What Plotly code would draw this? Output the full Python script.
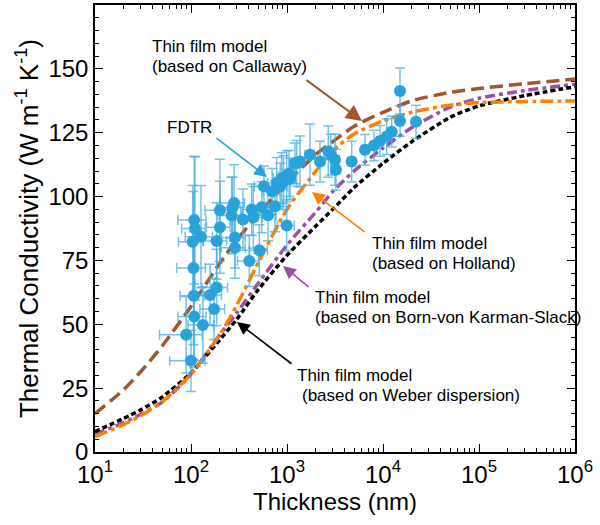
import plotly.graph_objects as go

# ---------------- data ----------------
# model curves (thickness in nm, thermal conductivity in W/m/K)
model_thickness = [10, 20, 30, 50, 100, 200, 300, 500, 1000, 2000, 3000, 5000,
                   1e4, 2e4, 5e4, 1e5, 3e5, 1e6]
k_callaway = [15, 24.5, 31.5, 41.5, 57, 74, 83, 93, 105.5, 116.5, 121.5, 127.5,
              133, 137.5, 140.8, 142.3, 144.2, 146]
k_holland = [6, 10.8, 14.2, 19.7, 30.5, 46, 57.5, 74, 95, 110, 118, 124.5,
             129.6, 133, 135.8, 136.8, 137.2, 137.4]
k_bvks = [7, 11.5, 14.8, 19.5, 30.5, 46, 54.5, 66, 81, 94, 102, 110,
          119, 127, 135, 138.5, 141.5, 144]
k_weber = [8, 13.2, 16.5, 21.5, 31, 44, 52, 63.5, 77, 88.5, 95, 103.5,
           113, 121.5, 131, 135.5, 139.5, 143]

# FDTR measurements
fdtr_thickness = [108, 110, 127, 104, 106, 107, 108, 133, 89, 100,
                  158, 174, 185, 200, 200, 185,
                  281, 270, 265, 348, 429, 446, 545, 634, 750, 575, 781, 881, 993, 1211,
                  993, 287, 287, 515, 405, 700, 850, 920, 1050,
                  1075, 1262, 1365, 1736, 2208, 2693, 2852, 3162, 3236, 4718,
                  6494, 8054, 9304, 10936, 12330, 15040, 15040, 22080]
fdtr_k = [90.8, 87.5, 84.3, 82.3, 72, 61.2, 53, 49.7, 45.9, 35.7,
          61.5, 56, 64.4, 94.6, 88, 82.6,
          97.5, 95.6, 92.6, 91, 94.9, 91.9, 95.8, 92.7, 96.2, 104, 105.3, 107.2, 107.9, 113,
          88.7, 84, 80, 79, 74.8, 102, 104, 106, 109,
          107, 113, 113.7, 116.4, 113.7, 117.6, 116.4, 114.4, 110.5, 113.7,
          118.3, 120, 121.8, 123.5, 125.4, 129.6, 141.3, 129.3]
fdtr_k_err = [25, 28, 20, 22, 30, 25, 20, 15, 15, 12,
              12, 12, 15, 20, 18, 15,
              15, 12, 15, 12, 10, 12, 10, 10, 10, 8, 10, 10, 10, 8,
              10, 12, 12, 10, 10, 9, 9, 10, 9,
              8, 9, 10, 12, 8, 10, 8, 10, 8, 8,
              6, 6, 6, 7, 6, 6, 9, 6.5]
fdtr_t_err = [35, 30, 40, 30, 35, 30, 35, 40, 42, 40,
              50, 50, 55, 60, 55, 50,
              80, 80, 75, 90, 100, 110, 120, 130, 150, 120, 150, 160, 180, 150,
              200, 80, 80, 110, 100, 140, 150, 160, 150,
              150, 150, 150, 200, 200, 250, 250, 300, 300, 400,
              500, 500, 600, 700, 800, 900, 900, 1000]

# x tick labels
xtick_vals = [10, 100, 1000, 1e4, 1e5, 1e6]
xtick_text = ["10<sup>1</sup>", "10<sup>2</sup>", "10<sup>3</sup>", "10<sup>4</sup>",
              "10<sup>5</sup>", "10<sup>6</sup>"]
ytick_vals = [0, 25, 50, 75, 100, 125, 150]

FONT = "Liberation Sans, Arial, sans-serif"
BROWN, ORANGE, PURPLE, BLUE = "#A3552B", "#FF8000", "#9B4FA8", "#29A3DA"

fig = go.Figure()

curves = [
    (k_callaway, BROWN, "13px,6px"),
    (k_bvks, PURPLE, "10px,4px,4px,4px"),
    (k_weber, "black", "5px,3px"),
    (k_holland, ORANGE, "13px,4px,4px,4px"),
]
for ys, col, dash in curves:
    fig.add_trace(go.Scatter(x=model_thickness, y=ys, mode="lines",
                             line=dict(color=col, width=3.5, dash=dash, shape="spline", smoothing=0.7),
                             showlegend=False, hoverinfo="skip"))

fig.add_trace(go.Scatter(
    x=fdtr_thickness, y=fdtr_k, mode="markers",
    marker=dict(color=BLUE, size=12, line=dict(width=0)),
    error_y=dict(type="data", array=fdtr_k_err, color="rgba(70,175,225,0.75)", thickness=1.5, width=5),
    error_x=dict(type="data", array=fdtr_t_err, color="rgba(70,175,225,0.75)", thickness=1.5, width=5),
    showlegend=False))

# annotation texts (one per line)
def txt(x, y, s):
    fig.add_annotation(x=x, y=y, xref="x", yref="y", text=s, showarrow=False,
                       xanchor="left", yanchor="middle", align="left",
                       font=dict(family=FONT, size=17, color="black"))

txt(1.575, 158.6, "Thin film model")
txt(1.575, 151.1, "(based on Callaway)")
txt(1.73, 126.9, "FDTR")
txt(3.862, 81.7, "Thin film model")
txt(3.862, 73.9, "(based on Holland)")
txt(3.272, 60.6, "Thin film model")
txt(3.272, 52.7, "(based on Born-von Karman-Slack)")
txt(3.081, 30.1, "Thin film model")
txt(3.133, 22.3, "(based on Weber dispersion)")

def arrow(tx, ty, fx, fy, col, w=1.6):
    fig.add_annotation(x=tx, y=ty, ax=fx, ay=fy, xref="x", yref="y", axref="x", ayref="y",
                       text="", showarrow=True, arrowhead=2, arrowsize=1.6, arrowwidth=w,
                       arrowcolor=col)

arrow(3.781, 129.6, 3.1875, 146.0, BROWN, 2)
arrow(2.792, 107.7, 2.25, 123.3, BLUE)
arrow(3.26, 101.8, 3.823, 85.7, ORANGE)
arrow(2.958, 72.8, 3.24, 64.2, PURPLE)
arrow(2.479, 50.9, 3.0625, 34.1, "black")

minor_x = [m * 10 ** e for e in range(1, 6) for m in range(2, 10)]

fig.update_xaxes(type="log", range=[1, 6], tickmode="array", tickvals=xtick_vals, ticktext=xtick_text,
                 ticks="inside", ticklen=8, tickwidth=1.2, tickcolor="black",
                 minor=dict(tickmode="array", tickvals=minor_x, ticks="inside", ticklen=4,
                            tickwidth=1, tickcolor="black", showgrid=False),
                 showline=True, linecolor="black", linewidth=1.5, mirror="ticks",
                 showgrid=False, zeroline=False, automargin=False,
                 tickfont=dict(family=FONT, size=24, color="black"),
                 title=dict(text="Thickness (nm)", font=dict(family=FONT, size=24, color="black"), standoff=2))
fig.update_yaxes(range=[0, 175], tickmode="array", tickvals=ytick_vals,
                 ticks="inside", ticklen=8, tickwidth=1.2, tickcolor="black",
                 minor=dict(dtick=5, ticks="inside", ticklen=4, tickwidth=1, tickcolor="black", showgrid=False),
                 showline=True, linecolor="black", linewidth=1.5, mirror="ticks",
                 showgrid=False, zeroline=False, automargin=False,
                 tickfont=dict(family=FONT, size=24, color="black"),
                 title=dict(text="Thermal Conductivity (W m<sup>-1</sup> K<sup>-1</sup>)",
                            font=dict(family=FONT, size=26, color="black"), standoff=2))

fig.update_layout(width=600, height=525, margin=dict(l=95, r=25, t=5, b=73),
                  plot_bgcolor="white", paper_bgcolor="white", font=dict(family=FONT))

fig.write_html("out.html", config={"displayModeBar": False},
               post_script="document.body.style.margin='0';")
